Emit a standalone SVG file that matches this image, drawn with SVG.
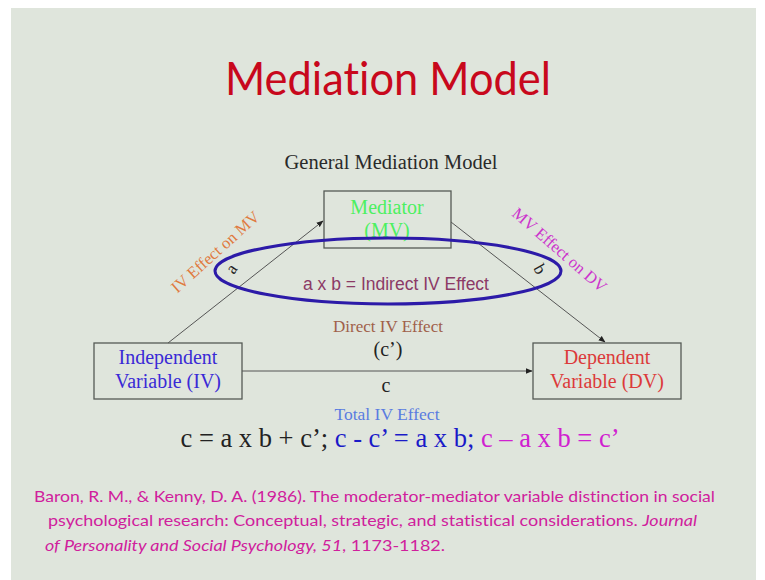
<svg xmlns="http://www.w3.org/2000/svg" width="765" height="580" viewBox="0 0 765 580">
  <defs>
    <marker id="arrow" viewBox="0 0 10 10" refX="9" refY="5" markerWidth="7" markerHeight="7" orient="auto" markerUnits="userSpaceOnUse">
      <path d="M0,1 L10,5 L0,9 z" fill="#222"/>
    </marker>
    <style>
      .serif { font-family: "Liberation Serif", "Times New Roman", serif; }
      .sans { font-family: "Liberation Sans", Arial, sans-serif; }
      .hum { font-family: Lato, "Open Sans", sans-serif; font-variant-ligatures: none; }
      .box { fill: none; stroke: #555a55; stroke-width: 1.3; }
      .edge { stroke: #555; stroke-width: 1; fill: none; }
    </style>
  </defs>

  <!-- page and slide background -->
  <rect x="0" y="0" width="765" height="580" fill="#ffffff"/>
  <rect x="11" y="8" width="745" height="572" fill="#dfe5dc"/>

  <!-- title -->
  <text class="hum" x="388" y="95" font-size="46" fill="#c8081c" text-anchor="middle" textLength="326" lengthAdjust="spacingAndGlyphs">Mediation Model</text>

  <text class="serif" x="391" y="169" font-size="20.5" fill="#2a2a2a" text-anchor="middle">General Mediation Model</text>

  <!-- connectors -->
  <g id="connectors">
    <line class="edge" x1="168" y1="343" x2="323" y2="221" marker-end="url(#arrow)"/>
    <line class="edge" x1="451" y1="222" x2="605" y2="342" marker-end="url(#arrow)"/>
    <line class="edge" x1="242" y1="371" x2="532" y2="371" marker-end="url(#arrow)"/>
  </g>

  <!-- nodes -->
  <g id="mediator">
    <rect class="box" x="324" y="191" width="127" height="57"/>
    <text class="serif" x="387" y="214" font-size="20" fill="#4cf060" text-anchor="middle">Mediator</text>
    <text class="serif" x="387" y="237" font-size="20" fill="#4cf060" text-anchor="middle">(MV)</text>
  </g>

  <g id="independent">
    <rect class="box" x="94" y="343" width="148" height="56"/>
    <text class="serif" x="168" y="364" font-size="20" fill="#3a2ad6" text-anchor="middle">Independent</text>
    <text class="serif" x="168" y="388" font-size="20" fill="#3a2ad6" text-anchor="middle">Variable (IV)</text>
  </g>

  <g id="dependent">
    <rect class="box" x="533" y="343" width="148" height="56"/>
    <text class="serif" x="607" y="364" font-size="20" fill="#dc3a3a" text-anchor="middle">Dependent</text>
    <text class="serif" x="607" y="388" font-size="20" fill="#dc3a3a" text-anchor="middle">Variable (DV)</text>
  </g>

  <!-- indirect effect ellipse -->
  <g id="indirect">
    <ellipse cx="388" cy="271" rx="173" ry="33" fill="none" stroke="#2c1aa8" stroke-width="3"/>
    <text class="sans" x="396" y="290" font-size="17.5" fill="#8c3a66" text-anchor="middle">a x b = Indirect IV Effect</text>
  </g>

  <!-- path labels -->
  <text class="serif" font-size="16.5" fill="#e07a40" text-anchor="middle" transform="translate(219,256) rotate(-42)">IV Effect on MV</text>
  <text class="serif" font-size="17" fill="#222" text-anchor="middle" transform="translate(236,272) rotate(-55)">a</text>
  <text class="serif" font-size="16.5" fill="#cc33cc" text-anchor="middle" transform="translate(556,254) rotate(41)">MV Effect on DV</text>
  <text class="serif" font-size="17" fill="#222" text-anchor="middle" transform="translate(535,272) rotate(60)">b</text>

  <text class="serif" x="388" y="332" font-size="17" fill="#a0604a" text-anchor="middle">Direct IV Effect</text>
  <text class="serif" x="388" y="356" font-size="20" fill="#222" text-anchor="middle">(c’)</text>
  <text class="serif" x="386" y="392" font-size="20" fill="#222" text-anchor="middle">c</text>
  <text class="serif" x="387" y="420" font-size="17.5" fill="#5a7ce0" text-anchor="middle">Total IV Effect</text>

  <!-- equation -->
  <text class="serif" x="400" y="447" font-size="26.5" text-anchor="middle"><tspan fill="#222">c = a x b + c’; </tspan><tspan fill="#1a1ac8">c - c’ = a x b; </tspan><tspan fill="#d020d0">c – a x b = c’</tspan></text>

  <!-- reference -->
  <g class="hum" font-size="16" fill="#d0209c">
    <text x="34" y="502" textLength="681" lengthAdjust="spacingAndGlyphs">Baron, R. M., &amp; Kenny, D. A. (1986). The moderator-mediator variable distinction in social</text>
    <text x="48" y="526" textLength="649" lengthAdjust="spacingAndGlyphs">psychological research: Conceptual, strategic, and statistical considerations. <tspan font-style="italic">Journal</tspan></text>
    <text x="45" y="551" textLength="400" lengthAdjust="spacingAndGlyphs"><tspan font-style="italic">of Personality and Social Psychology, 51</tspan>, 1173-1182.</text>
  </g>
</svg>
